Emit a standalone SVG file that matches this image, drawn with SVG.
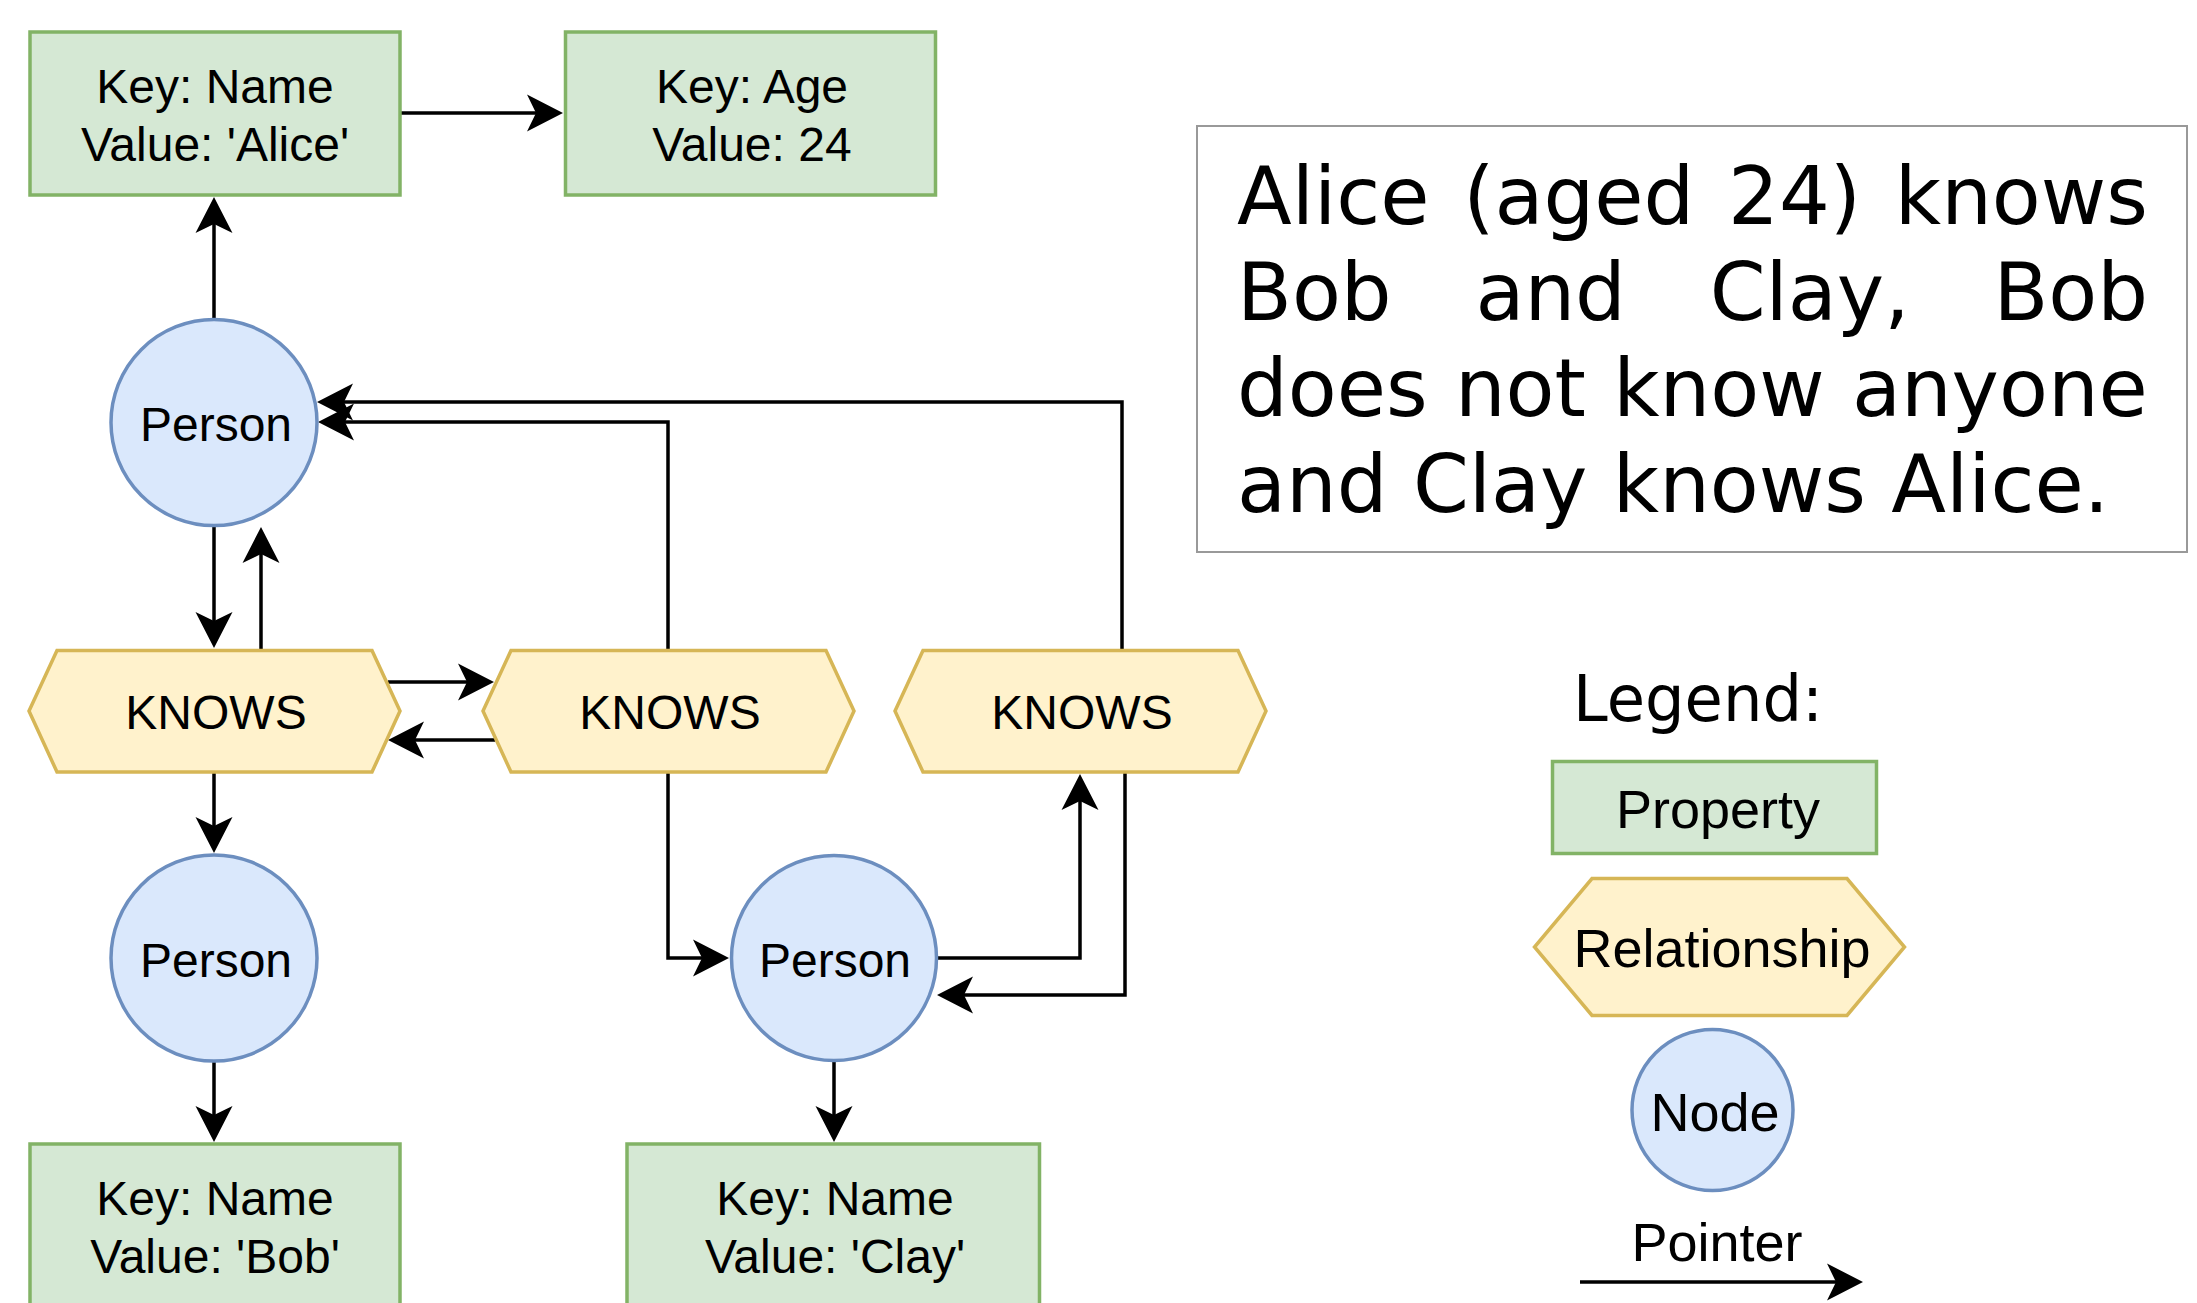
<svg xmlns="http://www.w3.org/2000/svg" width="2197" height="1303" viewBox="0 0 2197 1303">
  <style>
    .prop rect { fill: #d5e8d4; stroke: #82b366; stroke-width: 3.5; }
    .rel polygon { fill: #fff2cc; stroke: #d6b656; stroke-width: 3.5; }
    .node circle { fill: #dae8fc; stroke: #6c8ebf; stroke-width: 3.5; }
    .lbl { font-family: "Liberation Sans", Arial, sans-serif; font-size: 48px; fill: #000; text-anchor: middle; }
    .leg { font-family: "Liberation Sans", Arial, sans-serif; font-size: 54px; fill: #000; text-anchor: middle; }
    .note { font-family: "DejaVu Sans", Verdana, sans-serif; font-size: 80px; fill: #000; }
    .edges path { fill: none; stroke: #000; stroke-width: 3.5; marker-end: url(#arrow); }
  </style>
  <defs>
    <!-- classic arrowhead, anchored at its notch -->
    <marker id="arrow" markerUnits="userSpaceOnUse" viewBox="0 -19 37 38" refX="9" refY="0" markerWidth="37" markerHeight="38" orient="auto" overflow="visible">
      <path d="M0,-18.5 L36,0 L0,18.5 L9,0 Z" fill="#000"/>
    </marker>
  </defs>
  <rect width="2197" height="1303" fill="#fff"/>

  <!-- connectors -->
  <g id="connectors" class="edges">
    <path d="M214,318 V224"/>
    <path d="M401,113 H536"/>
    <path d="M214,527 V621"/>
    <path d="M261,650 V554"/>
    <path d="M388,682 H467"/>
    <path d="M495,740 H415"/>
    <path d="M214,773 V826"/>
    <path d="M214,1061 V1115"/>
    <path d="M668,650 V422 H345"/>
    <path d="M1122,650 V402 H344"/>
    <path d="M668,773 V958 H702"/>
    <path d="M937,958 H1080 V801"/>
    <path d="M1125,773 V995 H964"/>
    <path d="M834,1061 V1115"/>
  </g>

  <!-- property: Alice name -->
  <g id="prop-alice-name" class="prop">
    <rect x="30" y="32" width="370" height="163"/>
    <text class="lbl" x="215" y="103">Key: Name</text>
    <text class="lbl" x="215" y="161">Value: 'Alice'</text>
  </g>
  <!-- property: Alice age -->
  <g id="prop-alice-age" class="prop">
    <rect x="565.5" y="32" width="370" height="163"/>
    <text class="lbl" x="752" y="103">Key: Age</text>
    <text class="lbl" x="752" y="161">Value: 24</text>
  </g>

  <!-- person nodes -->
  <g id="person-alice" class="node">
    <circle cx="214" cy="422.5" r="103"/>
    <text class="lbl" x="216" y="441">Person</text>
  </g>
  <g id="person-bob" class="node">
    <circle cx="214" cy="958" r="103"/>
    <text class="lbl" x="216" y="977">Person</text>
  </g>
  <g id="person-clay" class="node">
    <circle cx="834" cy="958" r="102.5"/>
    <text class="lbl" x="835" y="977">Person</text>
  </g>

  <!-- relationships -->
  <g id="knows-1" class="rel">
    <polygon points="57,650.5 372,650.5 400,711 372,772 57,772 29,711"/>
    <text class="lbl" x="216" y="729">KNOWS</text>
  </g>
  <g id="knows-2" class="rel">
    <polygon points="511,650.5 826,650.5 854,711 826,772 511,772 483,711"/>
    <text class="lbl" x="670" y="729">KNOWS</text>
  </g>
  <g id="knows-3" class="rel">
    <polygon points="923,650.5 1238,650.5 1266,711 1238,772 923,772 895,711"/>
    <text class="lbl" x="1082" y="729">KNOWS</text>
  </g>

  <!-- properties: Bob and Clay names -->
  <g id="prop-bob-name" class="prop">
    <rect x="30" y="1144" width="370" height="163"/>
    <text class="lbl" x="215" y="1215">Key: Name</text>
    <text class="lbl" x="215" y="1273">Value: 'Bob'</text>
  </g>
  <g id="prop-clay-name" class="prop">
    <rect x="627" y="1144" width="412.5" height="163"/>
    <text class="lbl" x="835" y="1215">Key: Name</text>
    <text class="lbl" x="835" y="1273">Value: 'Clay'</text>
  </g>

  <!-- description box, justified text -->
  <g id="description">
    <rect x="1197" y="126" width="990" height="426" fill="#fff" stroke="#999" stroke-width="2"/>
    <text class="note" y="224"><tspan x="1237">Alice</tspan><tspan x="1463.2">(aged</tspan><tspan x="1728">24)</tspan><tspan x="1894.8">knows</tspan></text>
    <text class="note" y="320"><tspan x="1237">Bob</tspan><tspan x="1475.4">and</tspan><tspan x="1709.7">Clay,</tspan><tspan x="1993.4">Bob</tspan></text>
    <text class="note" y="416"><tspan x="1237">does</tspan><tspan x="1454.9">not</tspan><tspan x="1613.2">know</tspan><tspan x="1851.9">anyone</tspan></text>
    <text class="note" x="1237" y="512">and Clay knows Alice.</text>
  </g>

  <!-- legend -->
  <g id="legend">
    <text x="1573" y="721" font-family="DejaVu Sans, Verdana, sans-serif" font-size="64" textLength="250" lengthAdjust="spacingAndGlyphs">Legend:</text>
    <g id="legend-property" class="prop">
      <rect x="1552.5" y="761.5" width="324" height="92"/>
      <text class="leg" x="1718" y="828">Property</text>
    </g>
    <g id="legend-relationship" class="rel">
      <polygon points="1592,878.5 1847,878.5 1904.5,947 1847,1015.5 1592,1015.5 1534.5,947"/>
      <text class="leg" x="1722" y="967">Relationship</text>
    </g>
    <g id="legend-node" class="node">
      <circle cx="1712.5" cy="1110" r="80.5"/>
      <text class="leg" x="1715" y="1131">Node</text>
    </g>
    <g id="legend-pointer">
      <text class="leg" x="1717" y="1261">Pointer</text>
      <path d="M1580,1282 H1836" fill="none" stroke="#000" stroke-width="3.5" marker-end="url(#arrow)"/>
    </g>
  </g>
</svg>
